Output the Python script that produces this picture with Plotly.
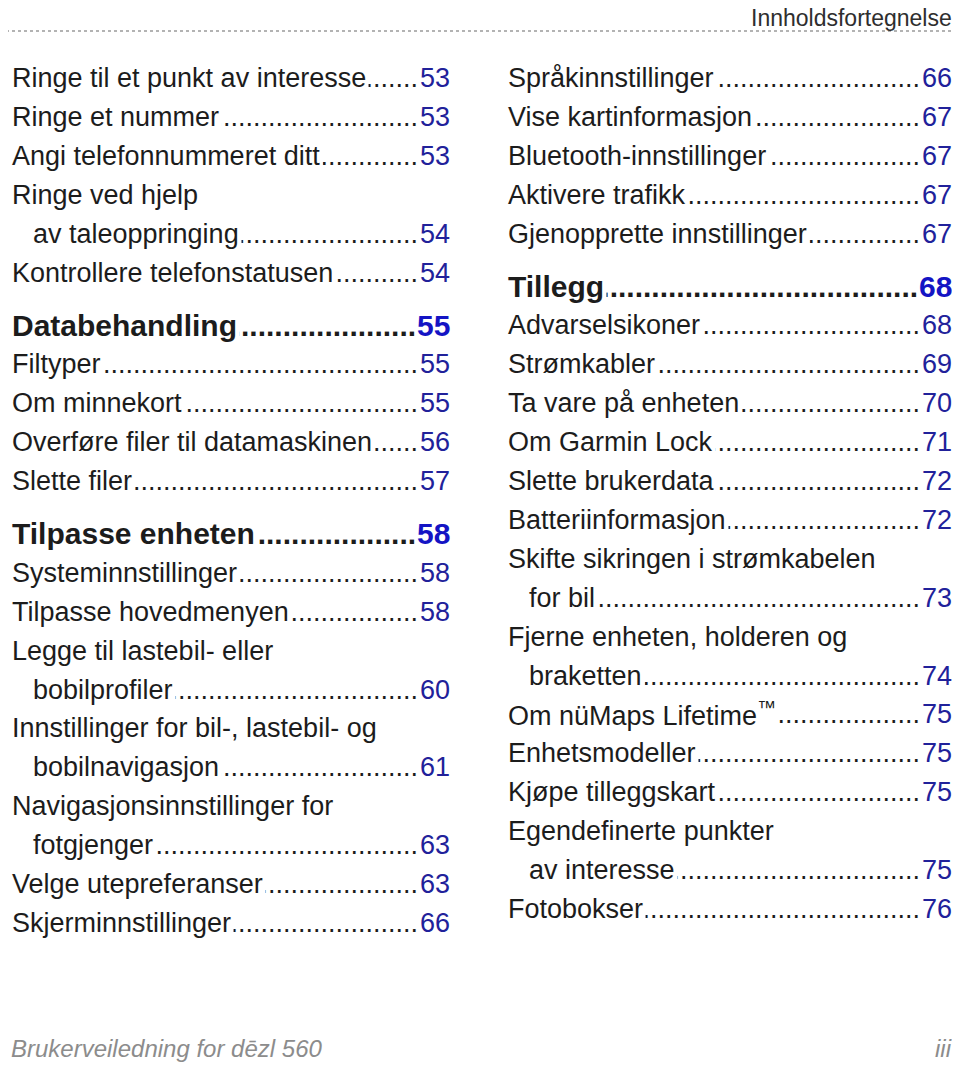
import plotly.graph_objects as go

# left column of the table of contents ("\n" = entry wraps onto an indented second line)
left_titles = [
    "Ringe til et punkt av interesse",
    "Ringe et nummer",
    "Angi telefonnummeret ditt",
    "Ringe ved hjelp\nav taleoppringing",
    "Kontrollere telefonstatusen",
    "Databehandling",
    "Filtyper",
    "Om minnekort",
    "Overføre filer til datamaskinen",
    "Slette filer",
    "Tilpasse enheten",
    "Systeminnstillinger",
    "Tilpasse hovedmenyen",
    "Legge til lastebil- eller\nbobilprofiler",
    "Innstillinger for bil-, lastebil- og\nbobilnavigasjon",
    "Navigasjonsinnstillinger for\nfotgjenger",
    "Velge utepreferanser",
    "Skjerminnstillinger",
]
left_pages = [53, 53, 53, 54, 54, 55, 55, 55, 56, 57, 58, 58, 58, 60, 61, 63, 63, 66]
left_levels = [2, 2, 2, 2, 2, 1, 2, 2, 2, 2, 1, 2, 2, 2, 2, 2, 2, 2]

# right column
right_titles = [
    "Språkinnstillinger",
    "Vise kartinformasjon",
    "Bluetooth-innstillinger",
    "Aktivere trafikk",
    "Gjenopprette innstillinger",
    "Tillegg",
    "Advarselsikoner",
    "Strømkabler",
    "Ta vare på enheten",
    "Om Garmin Lock",
    "Slette brukerdata",
    "Batteriinformasjon",
    "Skifte sikringen i strømkabelen\nfor bil",
    "Fjerne enheten, holderen og\nbraketten",
    "Om nüMaps Lifetime<sup>™</sup>",
    "Enhetsmodeller",
    "Kjøpe tilleggskart",
    "Egendefinerte punkter\nav interesse",
    "Fotobokser",
]
right_pages = [66, 67, 67, 67, 67, 68, 68, 69, 70, 71, 72, 72, 73, 74, 75, 75, 75, 75, 76]
right_levels = [2, 2, 2, 2, 2, 1, 2, 2, 2, 2, 2, 2, 2, 2, 2, 2, 2, 2, 2]

header_text = "Innholdsfortegnelse"
footer_text = "Brukerveiledning for dēzl 560"
footer_page = "iii"

FONT = "Liberation Sans, Arial, sans-serif"
TEXT_COLOR = "#1c1c1c"
NUM_COLOR = "#21219a"
HEAD_NUM_COLOR = "#1414c4"

ROW = 38.9
HEAD_GAP = 14
TOP = 78
INDENT = 21
PAGE_MARGIN = 8  # the browser's default body margin pushes the plot down/right
LEFT_X = PAGE_MARGIN + 0.5


def column_annotations(titles, pages, levels, x_left, x_right):
    leaders, labels = [], []
    y = TOP
    for i, (title, page, level) in enumerate(zip(titles, pages, levels)):
        if level == 1 and i > 0:
            y += HEAD_GAP
        bold = level == 1
        size = 30 if bold else 27
        lines = title.split("\n")
        for j, line in enumerate(lines):
            x = x_left + (INDENT if j > 0 else 0)
            txt = f"<b>{line}</b>" if bold else line
            labels.append(dict(
                x=x, y=y, xref="x", yref="y", text=txt, showarrow=False,
                xanchor="left", yanchor="middle", bgcolor="white", borderpad=2,
                font=dict(family=FONT, size=size, color=TEXT_COLOR),
            ))
            if j == len(lines) - 1:
                num = f"<b>{page}</b>" if bold else str(page)
                labels.append(dict(
                    x=x_right, y=y, xref="x", yref="y", text=num, showarrow=False,
                    xanchor="right", yanchor="middle",
                    font=dict(family=FONT, size=size,
                              color=HEAD_NUM_COLOR if bold else NUM_COLOR),
                ))
                dots = "." * (42 if bold else 48)
                leaders.append(dict(
                    x=x_right - (34 if bold else 32), y=y, xref="x", yref="y",
                    text=f"<b>{dots}</b>" if bold else dots, showarrow=False,
                    xanchor="right", yanchor="middle",
                    font=dict(family=FONT, size=size, color=TEXT_COLOR),
                ))
            y += ROW
    return leaders, labels


l_lead, l_lab = column_annotations(left_titles, left_pages, left_levels, LEFT_X, 452)
r_lead, r_lab = column_annotations(right_titles, right_pages, right_levels, 505, 954)

annotations = l_lead + r_lead + l_lab + r_lab
annotations.append(dict(
    x=954, y=18, xref="x", yref="y", text=header_text, showarrow=False,
    xanchor="right", yanchor="middle",
    font=dict(family=FONT, size=23, color="#2e2e2e"),
))
annotations.append(dict(
    x=LEFT_X, y=1048, xref="x", yref="y", text=f"<i>{footer_text}</i>", showarrow=False,
    xanchor="left", yanchor="middle",
    font=dict(family=FONT, size=24, color="#8c8c8c"),
))
annotations.append(dict(
    x=954, y=1048, xref="x", yref="y", text=f"<i>{footer_page}</i>", showarrow=False,
    xanchor="right", yanchor="middle",
    font=dict(family=FONT, size=24, color="#8c8c8c"),
))

fig = go.Figure()
fig.add_trace(go.Scatter(x=[PAGE_MARGIN, 960], y=[PAGE_MARGIN, 1067], mode="markers",
                         marker=dict(opacity=0), hoverinfo="skip", showlegend=False))
fig.add_shape(type="line", x0=0, x1=960, y0=31, y1=31, xref="x", yref="y",
              line=dict(color="#9a9a9a", width=1.5, dash="dot"))

fig.update_layout(
    width=960 - PAGE_MARGIN, height=1067 - PAGE_MARGIN,
    margin=dict(l=0, r=0, t=0, b=0),
    paper_bgcolor="white", plot_bgcolor="white",
    xaxis=dict(range=[PAGE_MARGIN, 960], visible=False, fixedrange=True),
    yaxis=dict(range=[1067, PAGE_MARGIN], visible=False, fixedrange=True),
    annotations=annotations,
    showlegend=False,
)

fig.write_html("out.html")
